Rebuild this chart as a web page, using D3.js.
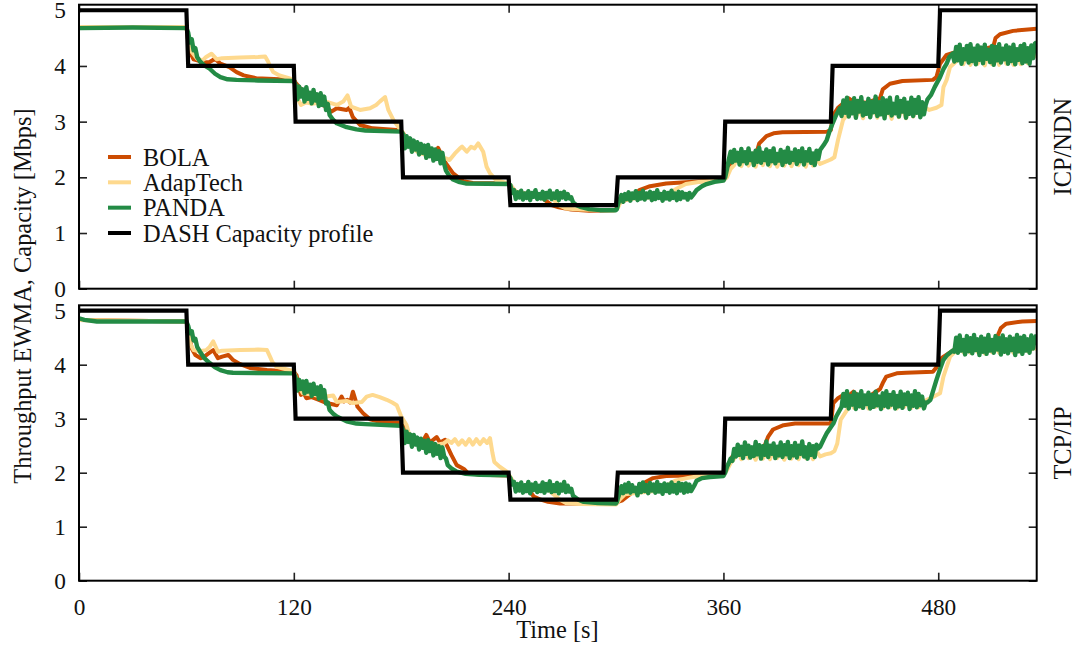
<!DOCTYPE html>
<html>
<head>
<meta charset="utf-8">
<script src="https://cdn.jsdelivr.net/npm/d3@7"></script>
<style>
  body { margin: 0; background: #fff; }
  svg { display: block; }
  text { font-family: "Liberation Serif", "Times New Roman", serif; fill: #111; }
</style>
</head>
<body>
<svg id="chart" width="1078" height="648"></svg>
<script>
// ---- data: [time (s), rate (Mbps)] ----
const seriesNames = ["BOLA", "AdapTech", "PANDA", "DASH Capacity profile"];
const panelNames = ["ICP/NDN", "TCP/IP"];
const timeTicks = [0, 120, 240, 360, 480];
const rateTicks = [0, 1, 2, 3, 4, 5];

const capacityProfile = [
  [0,5],[60,5],[61,4],[120,4],[121,3],[180,3],[181,2],[240,2],[241,1.5],
  [300,1.5],[301,2],[360,2],[361,3],[420,3],[421,4],[480,4],[481,5],[535,5]
];

// ICP/NDN run
const icnBola = [
  [0,4.70],[60,4.70],[61,4.45],[62,4.25],[64,4.12],[66,4.10],[70,4.06],[73,4.07],[76,4.13],[79,4.04],
  [84,3.98],[88,3.89],[92,3.83],[99,3.78],[112,3.76],[120,3.75],[121,3.70],[123,3.62],[126,3.52],
  [130,3.42],[134,3.33],[138,3.27],[141,3.18],[144,3.24],[149.5,3.21],[151,3.25],[153,3.08],[157,2.94],
  [164,2.88],[177.5,2.85],[180,2.84],[182,2.75],[184,2.62],[185,2.66],[188,2.55],[192,2.48],[196,2.45],
  [199,2.42],[200.6,2.53],[202,2.44],[205,2.25],[209,2.07],[214.7,1.93],[220,1.90],[240,1.89],
  [241,1.85],[244,1.74],[250,1.70],[257,1.70],[260,1.60],[264,1.50],[268,1.46],[275,1.42],[285,1.40],
  [299,1.41],[300.5,1.45],[302,1.55],[306,1.60],[309.6,1.65],[313,1.77],[319,1.84],[328,1.89],
  [343,1.92],[360,1.95],[362,2.10],[365,2.32],[370,2.38],[375,2.40],[378.6,2.45],[380,2.61],[384,2.74],
  [388,2.79],[393,2.81],[418,2.82],[420,2.85],[421,3.10],[424,3.25],[427,3.33],[430,3.42],[432.6,3.36],
  [440,3.34],[447.5,3.42],[449,3.58],[453,3.68],[460,3.73],[477,3.75],[479,3.80],[481,4.04],
  [484.7,4.20],[490,4.25],[500,4.25],[510.8,4.35],[512,4.50],[514.5,4.57],[521.8,4.63],[535,4.67]
];

const icnAdapTech = [
  [0,4.70],[60,4.70],[61,4.45],[63,4.25],[66,4.13],[69,4.10],[71,4.16],[74,4.22],[77,4.12],[80,4.14],
  [90,4.15],[100,4.16],[104,4.17],[105.6,4.08],[107,3.98],[108.5,3.89],[112,3.83],[119.7,3.76],
  [121,3.65],[122,3.42],[124,3.30],[127,3.35],[130,3.32],[134,3.34],[138,3.36],[144,3.30],[147.6,3.36],
  [150,3.47],[152,3.27],[157,3.21],[162.6,3.24],[166,3.30],[168,3.36],[171,3.44],[172.8,3.21],
  [175.6,3.03],[179,2.88],[181,2.80],[183,2.67],[187,2.50],[190.5,2.43],[195,2.40],[199.8,2.37],
  [205,2.34],[207,2.31],[210,2.43],[212.8,2.52],[214,2.55],[216.6,2.46],[219,2.55],[221,2.52],
  [223,2.61],[225.8,2.46],[227.7,2.19],[229.6,2.07],[233,1.95],[239,1.90],[241,1.86],[244,1.74],
  [250,1.70],[262,1.70],[265,1.60],[268,1.50],[272,1.44],[280,1.42],[299,1.41],[301,1.45],[303,1.58],
  [310,1.62],[320,1.64],[326,1.65],[328,1.68],[334,1.80],[339,1.88],[347,1.92],[360,1.95],[362,2.00],
  [364,2.15],[366,2.22],[368,2.38],[370,2.20],[372,2.40],[374,2.21],[376,2.33],[378,2.19],[380,2.40],
  [382,2.22],[384,2.36],[386,2.20],[388,2.41],[390,2.19],[392,2.34],[394,2.21],[396,2.40],[398,2.20],
  [400,2.37],[402,2.22],[404,2.39],[406,2.19],[408,2.40],[410,2.21],[412,2.33],[414,2.24],[417,2.28],
  [420,2.32],[422,2.36],[424,2.67],[426.8,3.03],[429.6,3.15],[432,3.30],[434,3.08],[436,3.24],
  [438,3.06],[440,3.31],[442,3.09],[444,3.25],[446,3.07],[448,3.30],[450,3.08],[452,3.23],[454,3.05],
  [456,3.31],[458,3.08],[460,3.26],[462,3.06],[464,3.30],[466,3.09],[468,3.24],[470,3.10],[471.6,3.27],
  [475,3.21],[479,3.25],[481.8,3.30],[482.9,3.62],[484.7,3.75],[486.6,3.98],[490,4.08],[492,4.25],
  [494,4.03],[496,4.20],[498,4.02],[500,4.26],[502,4.04],[504,4.19],[506,4.01],[508,4.25],[510,4.03],
  [512,4.21],[514,4.02],[516,4.26],[518,4.04],[520,4.20],[522,4.02],[524,4.25],[526,4.03],[528,4.22],
  [530,4.05],[532,4.15],[535,4.19]
];

const icnPanda = [
  [0,4.68],[30,4.69],[60,4.68],[61,4.60],[62,4.42],[63,4.48],[64,4.28],[65,4.32],[66,4.16],[67.6,4.08],
  [70,4.01],[73,3.95],[76,3.86],[79,3.80],[83,3.76],[88,3.75],[100,3.74],[120,3.73],
  [121,3.66],[122,3.40],[123,3.63],[124,3.45],[125,3.58],[126,3.36],[127,3.62],[128,3.41],[129,3.52],
  [130,3.33],[131,3.57],[132,3.38],[133,3.49],[134,3.28],[135,3.51],[136,3.30],[137,3.45],[138,3.21],
  [139,3.32],[140,3.12],[142,3.03],[144,2.97],[149.5,2.90],[155,2.86],[160,2.84],[180,2.82],
  [181,2.78],[182,2.52],[183,2.74],[184,2.55],[185,2.70],[186,2.46],[187,2.66],[188,2.50],[189,2.63],
  [190,2.41],[191,2.60],[192,2.44],[193,2.57],[194,2.35],[195,2.58],[196,2.38],[197,2.52],[198,2.30],
  [199,2.50],[200,2.33],[201,2.47],[202,2.25],[203,2.44],[204,2.24],
  [205,2.12],[207,2.02],[209,1.96],[212,1.92],[216,1.89],[240,1.88],
  [241,1.86],[242,1.72],[243,1.77],[244,1.61],[245,1.73],[246,1.64],[247,1.76],[248,1.60],[249,1.71],
  [250,1.63],[251,1.75],[252,1.59],[253,1.72],[254,1.65],[255,1.77],[256,1.61],[257,1.70],[258,1.62],
  [259,1.74],[260,1.60],[261,1.72],[262,1.64],[263,1.76],[264,1.61],[265,1.71],[266,1.63],[267,1.75],
  [268,1.59],[269,1.72],[270,1.64],[271,1.74],[272,1.61],[273,1.70],[274,1.62],[275,1.64],
  [276,1.55],[278,1.50],[280,1.47],[285,1.43],[291,1.41],[300,1.41],
  [300.5,1.43],[301,1.50],[302,1.60],[303,1.68],[304,1.56],[305,1.70],[306,1.61],[307,1.73],[308,1.58],
  [309,1.71],[310,1.63],[311,1.75],[312,1.59],[313,1.72],[314,1.62],[315,1.76],[316,1.60],[317,1.71],
  [318,1.64],[319,1.74],[320,1.59],[321,1.72],[322,1.61],[323,1.77],[324,1.63],[325,1.70],[326,1.58],
  [327,1.74],[328,1.62],[329,1.72],[330,1.60],[331,1.76],[332,1.63],[333,1.71],[334,1.59],[335,1.74],
  [336,1.61],[337,1.73],[338,1.64],[339,1.70],[340,1.60],[341,1.72],[342,1.64],
  [343,1.68],[345,1.77],[348,1.84],[350.6,1.88],[355,1.92],[360,1.94],
  [361,2.00],[362,2.15],[363,2.32],[364,2.46],[365,2.27],[366,2.49],[367,2.30],[368,2.44],[369,2.23],
  [370,2.51],[371,2.29],[372,2.45],[373,2.25],[374,2.52],[375,2.31],[376,2.43],[377,2.22],[378,2.48],
  [379,2.28],[380,2.53],[381,2.26],[382,2.44],[383,2.31],[384,2.50],[385,2.23],[386,2.47],[387,2.29],
  [388,2.52],[389,2.25],[390,2.42],[391,2.30],[392,2.49],[393,2.22],[394,2.46],[395,2.28],[396,2.53],
  [397,2.26],[398,2.44],[399,2.31],[400,2.50],[401,2.24],[402,2.47],[403,2.29],[404,2.52],[405,2.23],
  [406,2.45],[407,2.30],[408,2.51],[409,2.26],[410,2.43],[411,2.22],[412,2.48],[413,2.33],
  [414,2.49],[416,2.58],[417.7,2.67],[419,2.80],[421,2.97],[423,3.12],[425,3.24],
  [426,3.10],[427,3.38],[428,3.16],[429,3.43],[430,3.09],[431,3.34],[432,3.15],[433,3.42],[434,3.07],
  [435,3.37],[436,3.18],[437,3.44],[438,3.11],[439,3.33],[440,3.14],[441,3.41],[442,3.08],[443,3.36],
  [444,3.17],[445,3.45],[446,3.10],[447,3.35],[448,3.13],[449,3.42],[450,3.06],[451,3.38],[452,3.16],
  [453,3.43],[454,3.11],[455,3.32],[456,3.15],[457,3.44],[458,3.09],[459,3.37],[460,3.18],[461,3.41],
  [462,3.07],[463,3.34],[464,3.14],[465,3.43],[466,3.10],[467,3.39],[468,3.16],[469,3.44],[470,3.08],
  [471,3.35],[472,3.13],[473,3.30],
  [474,3.40],[476,3.48],[478,3.62],[481,3.80],[483,3.95],[484.7,4.04],[486,4.15],[488,4.22],
  [489,4.08],[490,4.34],[491,4.10],[492,4.38],[493,4.04],[494,4.30],[495,4.12],[496,4.36],[497,4.06],
  [498,4.39],[499,4.09],[500,4.31],[501,4.03],[502,4.37],[503,4.11],[504,4.33],[505,4.05],[506,4.38],
  [507,4.13],[508,4.29],[509,4.07],[510,4.36],[511,4.02],[512,4.34],[513,4.10],[514,4.39],[515,4.06],
  [516,4.31],[517,4.12],[518,4.37],[519,4.04],[520,4.33],[521,4.09],[522,4.38],[523,4.03],[524,4.30],
  [525,4.11],[526,4.36],[527,4.05],[528,4.39],[529,4.08],[530,4.32],[531,4.04],[532,4.37],[533,4.14],
  [534,4.40],[535,4.43]
];

// TCP/IP run
const tcpBola = [
  [0,4.83],[60,4.80],[61,4.65],[62,4.45],[63,4.30],[65,4.18],[68,4.12],[70,4.15],[72,4.20],[75,4.27],
  [77.6,4.12],[80,4.15],[83.4,4.18],[86,4.09],[90,4.01],[95.5,3.94],[105,3.90],[120,3.87],[121.6,3.80],
  [123,3.55],[124,3.44],[125.5,3.48],[127,3.38],[130,3.40],[134,3.35],[138.4,3.29],[144,3.25],
  [146.7,3.41],[148,3.32],[150,3.35],[151.5,3.30],[153,3.50],[155.6,3.22],[158.7,3.10],[162.6,2.99],
  [168,2.94],[179,2.92],[181.7,2.85],[184,2.72],[186,2.60],[189,2.63],[191,2.52],[194,2.70],[196,2.56],
  [199.8,2.66],[201.7,2.56],[204.5,2.61],[205,2.54],[208,2.33],[211,2.14],[215,2.07],[217,2.00],
  [224,1.96],[240,1.95],[242,1.85],[245,1.75],[250,1.72],[252,1.65],[254,1.56],[258,1.50],[262,1.46],
  [268.7,1.43],[300,1.43],[301,1.46],[303.6,1.49],[309.6,1.65],[312,1.68],[315,1.80],[320.7,1.90],
  [328,1.94],[360,1.96],[362,2.10],[365,2.30],[372,2.40],[380,2.42],[383,2.50],[385,2.67],[387.7,2.80],
  [393.6,2.88],[400,2.91],[420,2.91],[421.4,3.29],[424,3.38],[427,3.44],[429,3.40],[432.6,3.50],
  [436,3.40],[440,3.38],[447.5,3.55],[449,3.66],[451,3.78],[456.8,3.84],[462,3.85],[477,3.87],
  [479,3.95],[481,4.10],[483,4.15],[490,4.30],[500,4.35],[510,4.38],[512.7,4.50],[515,4.68],[518,4.76],
  [527,4.80],[535,4.81]
];

const tcpAdapTech = [
  [0,4.83],[60,4.80],[61,4.60],[62,4.40],[64,4.27],[67,4.25],[71,4.27],[73,4.33],[75,4.43],[77.6,4.24],
  [80,4.26],[90,4.27],[100,4.28],[105,4.27],[106.7,4.15],[108,4.05],[110.4,3.96],[114,3.93],[120,3.88],
  [121.6,3.72],[123,3.58],[125,3.47],[130,3.45],[134,3.42],[138,3.41],[142,3.43],[144,3.31],
  [149.5,3.33],[153,3.29],[158,3.31],[160.7,3.41],[164,3.44],[168,3.40],[171.9,3.35],[175,3.30],
  [177.5,3.25],[180,3.04],[183,2.88],[185,2.64],[188,2.58],[191,2.52],[194,2.55],[197,2.51],[200,2.52],
  [203.5,2.54],[206,2.60],[208,2.55],[210,2.62],[212,2.52],[214,2.60],[216,2.52],[218,2.62],[220,2.52],
  [222,2.62],[224,2.53],[226,2.62],[228,2.55],[229.6,2.64],[231,2.36],[232,2.20],[235,2.11],[239,2.02],
  [241,1.92],[243,1.80],[250,1.72],[262,1.70],[265,1.60],[268.7,1.50],[272,1.44],[280,1.42],[300,1.41],
  [302,1.50],[305,1.60],[315,1.64],[322,1.66],[328,1.76],[333,1.85],[339.6,1.90],[345,1.93],[360,1.96],
  [362,2.05],[364,2.18],[366,2.26],[368,2.42],[370,2.25],[372,2.44],[374,2.27],[376,2.37],[378,2.24],
  [380,2.43],[382,2.26],[384,2.38],[386,2.25],[388,2.44],[390,2.27],[392,2.36],[394,2.24],[396,2.43],
  [398,2.26],[400,2.39],[402,2.25],[404,2.44],[406,2.27],[408,2.38],[410,2.25],[412,2.40],[414,2.30],
  [417,2.34],[420,2.36],[422,2.40],[423.6,2.54],[425.5,2.98],[429,3.16],[431,3.36],[433,3.20],
  [435,3.32],[437,3.21],[439,3.35],[441,3.19],[443,3.33],[445,3.22],[447,3.36],[449,3.20],[451,3.31],
  [453,3.21],[455,3.35],[457,3.19],[459,3.33],[461,3.22],[463,3.36],[465,3.20],[467,3.32],[469,3.21],
  [471.6,3.30],[473.6,3.35],[477,3.40],[481,3.47],[482.9,3.78],[486.6,4.15],[490.3,4.27],[492,4.38],
  [494,4.23],[496,4.34],[498,4.22],[500,4.37],[502,4.24],[504,4.35],[506,4.21],[508,4.38],[510,4.23],
  [512,4.33],[514,4.22],[516,4.36],[518,4.24],[520,4.34],[522,4.22],[524,4.38],[526,4.23],[528,4.33],
  [530,4.25],[533,4.30],[535,4.30]
];

const tcpPanda = [
  [0,4.86],[3,4.83],[10,4.80],[60,4.80],[61,4.72],[62,4.58],[63,4.62],[64,4.45],[65,4.48],[66,4.33],
  [67.6,4.24],[70,4.12],[73,4.03],[76,3.95],[79,3.90],[83,3.86],[86,3.85],[120,3.84],
  [121,3.76],[122,3.52],[123,3.72],[124,3.55],[125,3.69],[126,3.47],[127,3.70],[128,3.50],[129,3.63],
  [130,3.42],[131,3.65],[132,3.46],[133,3.58],[134,3.37],[135,3.60],[136,3.39],[137,3.53],[138,3.28],
  [139,3.30],[140,3.16],[142,3.09],[144,3.04],[149.5,2.95],[155,2.91],[160,2.90],[180,2.87],
  [181,2.80],[182,2.55],[183,2.76],[184,2.57],[185,2.71],[186,2.48],[187,2.70],[188,2.52],[189,2.65],
  [190,2.43],[191,2.63],[192,2.46],[193,2.59],[194,2.37],[195,2.60],[196,2.40],[197,2.55],[198,2.32],
  [199,2.53],[200,2.35],[201,2.49],[202,2.27],[203,2.47],[204,2.30],[205,2.26],
  [206,2.14],[208,2.08],[211,2.02],[216,1.98],[224,1.96],[240,1.95],
  [241,1.90],[242,1.78],[243,1.83],[244,1.65],[245,1.79],[246,1.67],[247,1.82],[248,1.63],[249,1.77],
  [250,1.66],[251,1.83],[252,1.62],[253,1.78],[254,1.68],[255,1.81],[256,1.64],[257,1.76],[258,1.66],
  [259,1.82],[260,1.63],[261,1.79],[262,1.67],[263,1.84],[264,1.64],[265,1.77],[266,1.66],[267,1.81],
  [268,1.62],[269,1.78],[270,1.67],[271,1.83],[272,1.64],[273,1.76],[274,1.65],[275,1.70],
  [276,1.57],[279,1.50],[282,1.46],[290,1.44],[300,1.43],
  [300.5,1.46],[301,1.52],[302,1.62],[303,1.75],[304,1.62],[305,1.78],[306,1.65],[307,1.81],[308,1.63],
  [309,1.77],[310,1.66],[311,1.72],[312,1.58],[313,1.79],[314,1.64],[315,1.82],[316,1.66],[317,1.77],
  [318,1.62],[319,1.81],[320,1.67],[321,1.78],[322,1.63],[323,1.83],[324,1.65],[325,1.77],[326,1.61],
  [327,1.80],[328,1.66],[329,1.78],[330,1.63],[331,1.82],[332,1.65],[333,1.77],[334,1.62],[335,1.81],
  [336,1.67],[337,1.79],[338,1.63],[339,1.80],[340,1.65],[341,1.78],[342,1.66],
  [344,1.78],[345,1.85],[348,1.90],[352.5,1.92],[360,1.94],
  [361,2.00],[362,2.11],[363,2.18],[364,2.26],[365,2.22],[366,2.44],[367,2.30],[368,2.52],[369,2.33],
  [370,2.48],[371,2.27],[372,2.56],[373,2.35],[374,2.50],[375,2.28],[376,2.47],[377,2.31],[378,2.57],
  [379,2.34],[380,2.51],[381,2.26],[382,2.49],[383,2.33],[384,2.58],[385,2.29],[386,2.50],[387,2.35],
  [388,2.54],[389,2.27],[390,2.48],[391,2.32],[392,2.56],[393,2.29],[394,2.51],[395,2.34],[396,2.57],
  [397,2.27],[398,2.49],[399,2.32],[400,2.55],[401,2.28],[402,2.50],[403,2.35],[404,2.58],[405,2.30],
  [406,2.47],[407,2.26],[408,2.53],[409,2.33],[410,2.49],[411,2.29],[412,2.52],[413,2.45],
  [414,2.48],[416,2.62],[417.7,2.73],[419.5,2.82],[421.4,2.91],[423,3.04],[425,3.16],
  [426,3.22],[427,3.46],[428,3.24],[429,3.51],[430,3.19],[431,3.42],[432,3.26],[433,3.49],[434,3.18],
  [435,3.45],[436,3.23],[437,3.51],[438,3.20],[439,3.43],[440,3.27],[441,3.48],[442,3.19],[443,3.44],
  [444,3.22],[445,3.50],[446,3.25],[447,3.41],[448,3.18],[449,3.47],[450,3.24],[451,3.51],[452,3.21],
  [453,3.44],[454,3.26],[455,3.49],[456,3.19],[457,3.42],[458,3.23],[459,3.50],[460,3.20],[461,3.45],
  [462,3.27],[463,3.48],[464,3.18],[465,3.43],[466,3.24],[467,3.51],[468,3.21],[469,3.46],[470,3.25],
  [471,3.41],[472,3.19],[473,3.30],
  [474,3.30],[475.6,3.35],[477,3.50],[479,3.72],[481,3.92],[482.9,4.09],[485,4.18],[488.4,4.27],
  [489,4.24],[490,4.50],[491,4.22],[492,4.54],[493,4.26],[494,4.46],[495,4.19],[496,4.53],[497,4.25],
  [498,4.49],[499,4.21],[500,4.55],[501,4.27],[502,4.47],[503,4.18],[504,4.52],[505,4.24],[506,4.48],
  [507,4.20],[508,4.55],[509,4.26],[510,4.46],[511,4.22],[512,4.53],[513,4.28],[514,4.49],[515,4.19],
  [516,4.54],[517,4.24],[518,4.47],[519,4.21],[520,4.52],[521,4.27],[522,4.48],[523,4.18],[524,4.55],
  [525,4.25],[526,4.50],[527,4.20],[528,4.53],[529,4.26],[530,4.47],[531,4.22],[532,4.54],[533,4.30],
  [534,4.50],[535,4.55]
];

// ---- layout & styling ----
const colors = { BOLA: "#cc4c02", AdapTech: "#fed98e", PANDA: "#238b45", DASH: "#000000" };
const frameLeft = 79, frameRight = 1036.7;
const titleSize = 24.4, tickSize = 23.3;
const panels = [
  { name: panelNames[0], top: 4.7, bottom: 288.7, bola: icnBola, adap: icnAdapTech, panda: icnPanda, xLabels: false, legend: true },
  { name: panelNames[1], top: 305.3, bottom: 580.7, bola: tcpBola, adap: tcpAdapTech, panda: tcpPanda, xLabels: true, legend: false }
];

const svg = d3.select("#chart");
const x = d3.scaleLinear().domain([0, 535]).range([frameLeft, frameRight]);

panels.forEach((p, i) => {
  const y = d3.scaleLinear().domain([0, 5.1]).range([p.bottom, p.top]);
  const g = svg.append("g");

  const clipId = "clip" + i;
  g.append("clipPath").attr("id", clipId)
    .append("rect")
    .attr("x", frameLeft).attr("y", p.top)
    .attr("width", frameRight - frameLeft).attr("height", p.bottom - p.top);

  // inward ticks on all four sides
  const tickStyle = sel => {
    sel.select(".domain").remove();
    sel.selectAll(".tick line").attr("stroke", "#222").attr("stroke-width", 1.6);
    sel.selectAll(".tick text").attr("font-size", tickSize).attr("fill", "#111")
      .attr("font-family", '"Liberation Serif", "Times New Roman", serif');
  };
  g.append("g").attr("transform", `translate(${frameLeft},0)`)
    .call(d3.axisLeft(y).tickValues(rateTicks).tickFormat(d3.format("d")).tickSize(-8).tickPadding(13))
    .call(tickStyle);
  g.append("g").attr("transform", `translate(${frameRight},0)`)
    .call(d3.axisRight(y).tickValues(rateTicks).tickFormat("").tickSize(-8))
    .call(tickStyle);
  g.append("g").attr("transform", `translate(0,${p.top})`)
    .call(d3.axisTop(x).tickValues(timeTicks).tickFormat("").tickSize(-8))
    .call(tickStyle);
  g.append("g").attr("transform", `translate(0,${p.bottom})`)
    .call(d3.axisBottom(x).tickValues(timeTicks).tickFormat(p.xLabels ? d3.format("d") : "").tickSize(-8).tickPadding(18))
    .call(tickStyle);

  const line = d3.line().x(d => x(d[0])).y(d => y(d[1]));
  const plot = g.append("g").attr("clip-path", `url(#${clipId})`);
  const drawSeries = (data, color, width, join) =>
    plot.append("path").datum(data)
      .attr("d", line)
      .attr("fill", "none")
      .attr("stroke", color)
      .attr("stroke-width", width)
      .attr("stroke-linejoin", join);

  drawSeries(p.bola, colors.BOLA, 4, "round");
  drawSeries(p.adap, colors.AdapTech, 4, "round");
  drawSeries(p.panda, colors.PANDA, 4.4, "round");
  drawSeries(capacityProfile, colors.DASH, 4.2, "miter");

  // frame
  g.append("rect")
    .attr("x", frameLeft).attr("y", p.top)
    .attr("width", frameRight - frameLeft).attr("height", p.bottom - p.top)
    .attr("fill", "none").attr("stroke", "#000").attr("stroke-width", 2);

  // panel name on the right
  const cy = (p.top + p.bottom) / 2;
  g.append("text")
    .attr("transform", `translate(1062,${cy}) rotate(-90)`)
    .attr("text-anchor", "middle").attr("dy", "0.35em")
    .attr("font-size", titleSize)
    .text(p.name);

  if (p.legend) {
    const legendColors = [colors.BOLA, colors.AdapTech, colors.PANDA, colors.DASH];
    const rowY = d3.scaleLinear().domain([0, 3]).range([157, 233]);
    const lg = g.append("g");
    seriesNames.forEach((name, k) => {
      lg.append("line")
        .attr("x1", 108).attr("x2", 131)
        .attr("y1", rowY(k)).attr("y2", rowY(k))
        .attr("stroke", legendColors[k]).attr("stroke-width", 4);
      lg.append("text")
        .attr("x", 143).attr("y", rowY(k)).attr("dy", "0.35em")
        .attr("font-size", titleSize)
        .text(name);
    });
  }
});

// shared axis titles
svg.append("text")
  .attr("transform", "translate(22,296) rotate(-90)")
  .attr("text-anchor", "middle").attr("dy", "0.35em")
  .attr("font-size", titleSize)
  .text("Throughput EWMA, Capacity [Mbps]");

svg.append("text")
  .attr("x", 557.5).attr("y", 638)
  .attr("text-anchor", "middle")
  .attr("font-size", titleSize)
  .text("Time [s]");
</script>
</body>
</html>
